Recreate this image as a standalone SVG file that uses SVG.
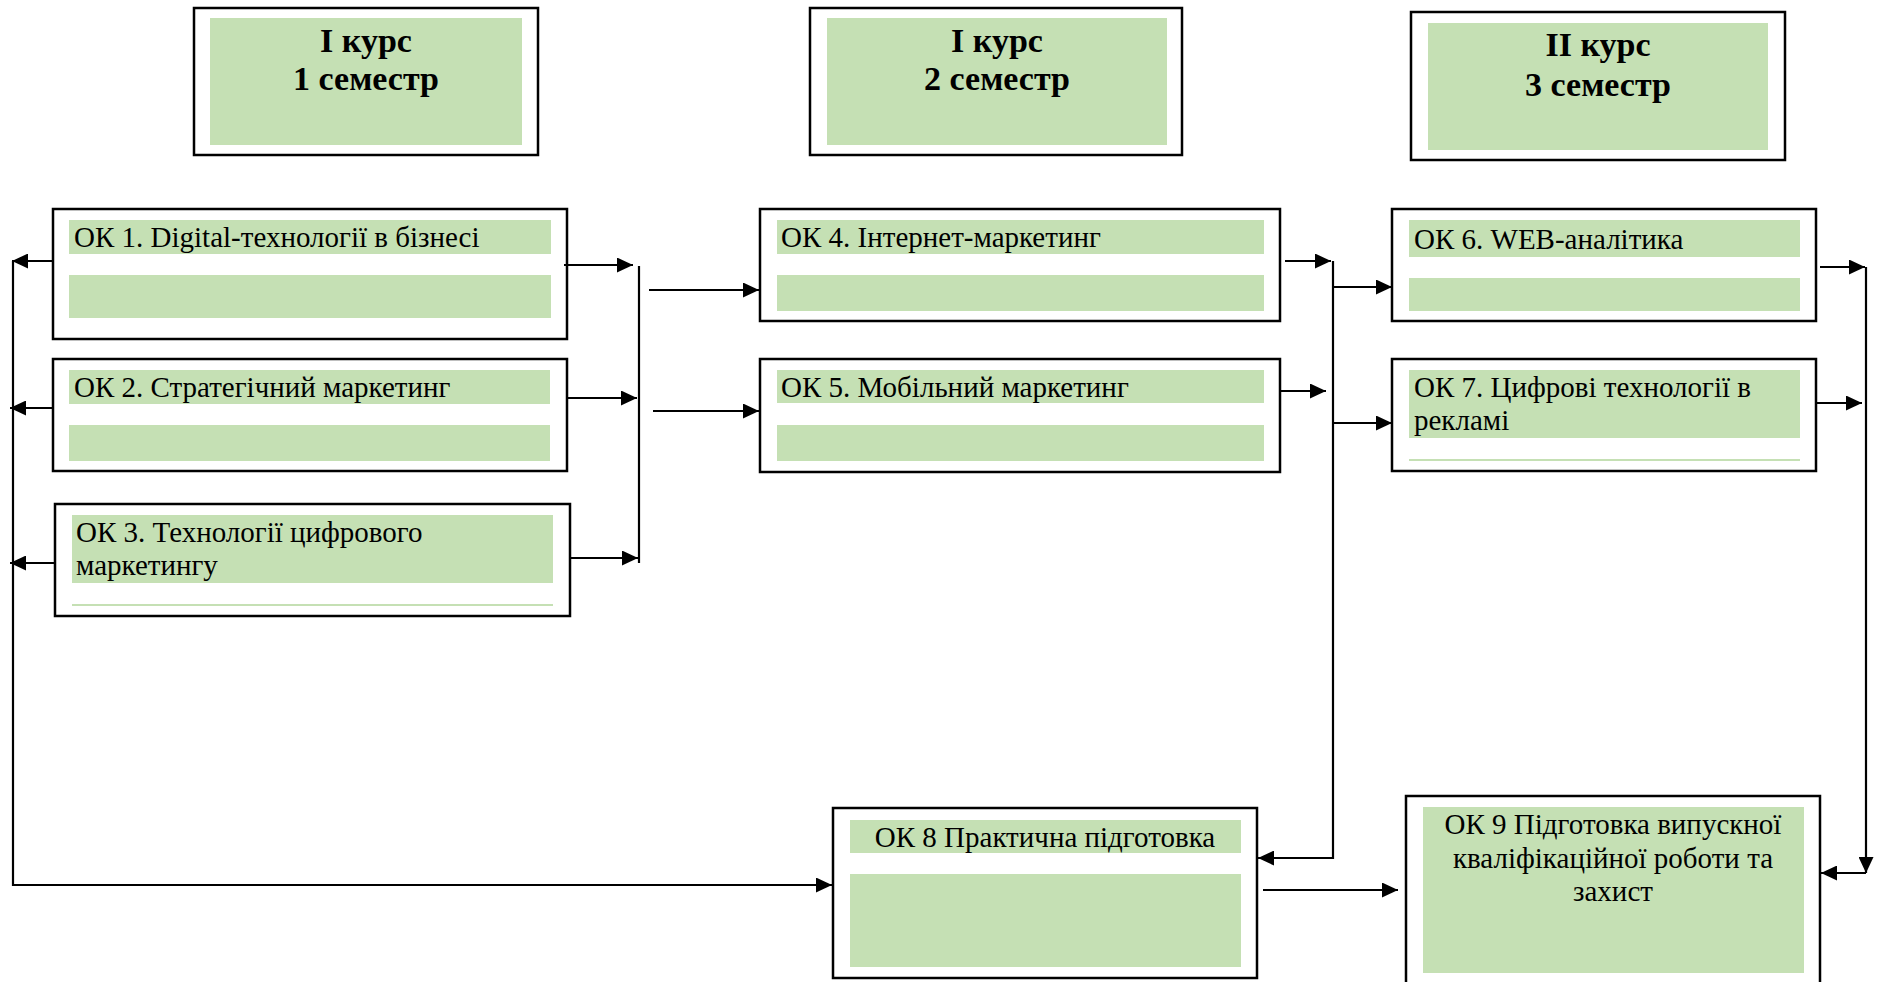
<svg xmlns="http://www.w3.org/2000/svg" width="1877" height="982" viewBox="0 0 1877 982">
<style>
.box{fill:#fff;stroke:#000;stroke-width:2.5}
.g{fill:#C5E0B4}
.t{font-family:"Liberation Serif","Times New Roman",serif;font-size:29px;fill:#000}
.h{font-family:"Liberation Serif","Times New Roman",serif;font-size:34px;font-weight:bold;fill:#000;text-anchor:middle}
.c{text-anchor:middle}
.ln{fill:none;stroke:#000;stroke-width:2.2}
.gl{stroke:#C5E0B4;stroke-width:2}
</style>
<defs>
<marker id="a" markerUnits="userSpaceOnUse" markerWidth="16" markerHeight="15" refX="16" refY="7.5" orient="auto">
<path d="M0,0 L16,7.5 L0,15 z" fill="#000"/>
</marker>
</defs>
<rect width="1877" height="982" fill="#fff"/>

<g id="h1">
<rect class="box" x="194" y="8" width="344" height="147"/>
<rect class="g" x="210" y="18" width="312" height="127"/>
<text class="h" x="366" y="52">I курс</text>
<text class="h" x="366" y="90">1 семестр</text>
</g>
<g id="h2">
<rect class="box" x="810" y="8" width="372" height="147"/>
<rect class="g" x="827" y="18" width="340" height="127"/>
<text class="h" x="997" y="52">I курс</text>
<text class="h" x="997" y="90">2 семестр</text>
</g>
<g id="h3">
<rect class="box" x="1411" y="12" width="374" height="148"/>
<rect class="g" x="1428" y="23" width="340" height="127"/>
<text class="h" x="1598" y="56">II курс</text>
<text class="h" x="1598" y="96">3 семестр</text>
</g>

<g id="ok1">
<rect class="box" x="53" y="209" width="514" height="130"/>
<rect class="g" x="69" y="220" width="482" height="34"/>
<rect class="g" x="69" y="275" width="482" height="43"/>
<text class="t" x="74" y="247">ОК 1. Digital-технології в бізнесі</text>
</g>
<g id="ok2">
<rect class="box" x="53" y="359" width="514" height="112"/>
<rect class="g" x="69" y="370" width="481" height="34"/>
<rect class="g" x="69" y="425" width="481" height="36"/>
<text class="t" x="74" y="397">ОК 2. Стратегічний маркетинг</text>
</g>
<g id="ok3">
<rect class="box" x="55" y="504" width="515" height="112"/>
<rect class="g" x="72" y="515" width="481" height="68"/>
<line class="gl" x1="72" y1="605" x2="553" y2="605"/>
<text class="t" x="76" y="542">ОК 3. Технології цифрового</text>
<text class="t" x="76" y="575">маркетингу</text>
</g>
<g id="ok4">
<rect class="box" x="760" y="209" width="520" height="112"/>
<rect class="g" x="777" y="220" width="487" height="34"/>
<rect class="g" x="777" y="275" width="487" height="36"/>
<text class="t" x="781" y="247">ОК 4. Інтернет-маркетинг</text>
</g>
<g id="ok5">
<rect class="box" x="760" y="359" width="520" height="113"/>
<rect class="g" x="777" y="370" width="487" height="33"/>
<rect class="g" x="777" y="425" width="487" height="36"/>
<text class="t" x="781" y="397">ОК 5. Мобільний маркетинг</text>
</g>
<g id="ok6">
<rect class="box" x="1392" y="209" width="424" height="112"/>
<rect class="g" x="1409" y="220" width="391" height="37"/>
<rect class="g" x="1409" y="278" width="391" height="33"/>
<text class="t" x="1414" y="249">ОК 6. WEB-аналітика</text>
</g>
<g id="ok7">
<rect class="box" x="1392" y="359" width="424" height="112"/>
<rect class="g" x="1409" y="370" width="391" height="68"/>
<line class="gl" x1="1409" y1="460" x2="1800" y2="460"/>
<text class="t" x="1414" y="397">ОК 7. Цифрові технології в</text>
<text class="t" x="1414" y="430">рекламі</text>
</g>
<g id="ok8">
<rect class="box" x="833" y="808" width="424" height="170"/>
<rect class="g" x="850" y="820" width="391" height="33"/>
<rect class="g" x="850" y="874" width="391" height="93"/>
<text class="t c" x="1045" y="847">ОК 8 Практична підготовка</text>
</g>
<g id="ok9">
<rect class="box" x="1406" y="796" width="414" height="200"/>
<rect class="g" x="1423" y="807" width="381" height="166"/>
<text class="t c" x="1613" y="834">ОК 9 Підготовка випускної</text>
<text class="t c" x="1613" y="868">кваліфікаційної роботи та</text>
<text class="t c" x="1613" y="901">захист</text>
</g>

<g id="connectors">
<path class="ln" d="M53,261 H12" marker-end="url(#a)"/>
<path class="ln" d="M53,408 H10" marker-end="url(#a)"/>
<path class="ln" d="M55,563 H10" marker-end="url(#a)"/>
<path class="ln" d="M13,261 V885 H832" marker-end="url(#a)"/>
<path class="ln" d="M564,265 H633" marker-end="url(#a)"/>
<path class="ln" d="M567,398 H637" marker-end="url(#a)"/>
<path class="ln" d="M570,558 H638" marker-end="url(#a)"/>
<path class="ln" d="M639,266 V563"/>
<path class="ln" d="M649,290 H759" marker-end="url(#a)"/>
<path class="ln" d="M653,411 H759" marker-end="url(#a)"/>
<path class="ln" d="M1285,261 H1331" marker-end="url(#a)"/>
<path class="ln" d="M1281,391 H1326" marker-end="url(#a)"/>
<path class="ln" d="M1333,261 V858 H1258" marker-end="url(#a)"/>
<path class="ln" d="M1333,287 H1392" marker-end="url(#a)"/>
<path class="ln" d="M1333,423 H1392" marker-end="url(#a)"/>
<path class="ln" d="M1820,267 H1865" marker-end="url(#a)"/>
<path class="ln" d="M1817,403 H1862" marker-end="url(#a)"/>
<path class="ln" d="M1866,267 V873" marker-end="url(#a)"/>
<path class="ln" d="M1866,873 H1821" marker-end="url(#a)"/>
<path class="ln" d="M1263,890 H1398" marker-end="url(#a)"/>
</g>
</svg>
